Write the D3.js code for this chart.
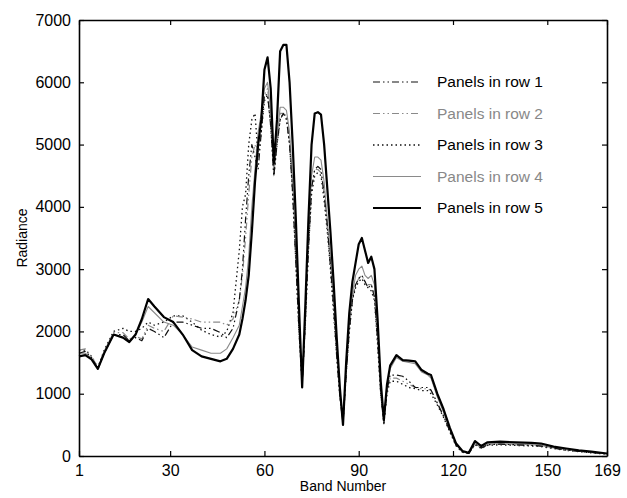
<!DOCTYPE html>
<html lang="en">
<head>
<meta charset="UTF-8">
<title>Radiance vs Band Number</title>
<script src="https://cdn.jsdelivr.net/npm/d3@7/dist/d3.min.js"></script>
<style>
    body { margin: 0; background: #fff; }
    svg text { font-family: "Liberation Sans", Arial, Helvetica, sans-serif; }
</style>
</head>
<body>
<div id="chart"></div>
<script>
const bands = [1,3,5,7,9,12,15,17,19,21, 23,25,28,31,34,37,40,43,46,48,
    50,52,53,54,55,56,57,58,59,60, 61,62,63,64,65,66,67,68,69,70,
    71,72,73,74,75,76,77,78,79,80, 81,82,83,84,85,86,87,88,89,90,
    91,92,93,94,95,96,97,98,99,100, 102,104,106,108,110,112,113,115,117,119,
    121,123,125,127,129,131,135,140,145,148, 152,156,160,164,169];

const row1 = [1650,1680,1580,1400,1650,1950,1950,1850,1900,1850,
    2050,2000,1900,2150,2150,2100,2050,2050,1980,1900,
    2050,2500,3000,3800,4500,5000,4800,4600,5200,5800,
    5800,5300,4500,5000,5400,5500,5400,5000,4200,3100,
    2000,1150,2150,3300,4300,4600,4650,4600,4200,3700,
    3050,2400,1600,950,520,1300,2000,2500,2750,2850,
    2900,2800,2700,2750,2550,1850,1000,520,1050,1300,
    1300,1280,1200,1100,1100,1100,1060,850,640,400,
    170,60,40,190,130,180,190,180,170,160,
    125,95,75,55,35];

const row2 = [1700,1720,1600,1420,1680,1980,1980,1880,1920,1880,
    2100,2050,2000,2250,2230,2200,2150,2150,2150,2100,
    2200,2500,2900,3500,4200,4800,5000,4800,5300,5800,
    5900,5400,4600,5100,5500,5500,5450,5100,4300,3200,
    2100,1150,2200,3400,4300,4600,4600,4550,4200,3700,
    3100,2400,1650,950,540,1350,2050,2550,2750,2850,
    2900,2800,2750,2750,2600,1900,1050,540,1050,1250,
    1250,1200,1150,1100,1080,1080,1050,850,650,400,
    170,60,40,190,130,180,190,180,170,160,
    130,100,80,60,35];

const row3 = [1700,1700,1600,1420,1700,2000,2050,2000,2000,2050,
    2150,2100,2150,2250,2250,2150,2020,1950,1910,2000,
    2300,3300,4000,4200,5000,5400,5500,4800,5200,5700,
    5800,5300,4500,5000,5400,5500,5450,5000,4200,3100,
    2000,1200,2100,3300,4200,4500,4550,4500,4100,3600,
    3000,2300,1600,950,550,1300,2000,2500,2700,2800,
    2850,2750,2700,2650,2500,1800,1000,520,1000,1200,
    1200,1150,1100,1080,1050,1050,1000,820,620,380,
    160,60,40,180,120,170,180,170,160,150,
    120,90,70,50,30];

const row4 = [1650,1650,1570,1400,1650,1950,1900,1850,1950,2150,
    2400,2300,2150,2100,1950,1750,1700,1650,1650,1720,
    1900,2100,2400,2700,3200,4000,4600,5200,5500,5900,
    6000,5500,4500,5100,5600,5600,5550,5200,4400,3300,
    2100,1150,2200,3500,4500,4800,4800,4750,4400,3800,
    3200,2500,1700,1000,520,1400,2100,2600,2900,3000,
    3050,2900,2850,2900,2750,2000,1100,560,1100,1400,
    1580,1520,1500,1480,1350,1300,1250,950,700,420,
    180,70,40,200,130,190,200,190,180,170,
    130,100,80,60,35];

const row5 = [1600,1620,1550,1400,1650,1950,1900,1830,1950,2200,
    2520,2400,2230,2150,1950,1700,1600,1560,1520,1560,
    1720,1950,2200,2500,2900,3600,4400,5000,5400,6200,
    6400,5900,4700,5400,6500,6600,6600,6000,5000,3800,
    2400,1100,2400,3800,5000,5500,5520,5480,5000,4300,
    3600,2800,1900,1100,500,1500,2300,2800,3100,3400,
    3500,3300,3100,3200,3000,2200,1200,580,1150,1450,
    1620,1540,1530,1520,1380,1320,1300,1000,750,450,
    200,80,50,240,160,220,230,220,210,200,
    150,120,90,70,40];

const seriesNames = ['Panels in row 1','Panels in row 2','Panels in row 3','Panels in row 4','Panels in row 5'];
const xTicks = [1, 30, 60, 90, 120, 150, 169];
const yTicks = [0, 1000, 2000, 3000, 4000, 5000, 6000, 7000];

const width = 627, height = 498;
const margin = { top: 20, right: 20, bottom: 42, left: 79 };

const styles = [
    { color: '#111', width: 1.2, dash: '7,3,1.5,3,1.5,3' },
    { color: '#8a8a8a', width: 1.2, dash: '7,3,1.5,3,1.5,3' },
    { color: '#111', width: 1.3, dash: '1.5,3' },
    { color: '#8a8a8a', width: 1.1, dash: null },
    { color: '#000', width: 2.2, dash: null }
];
const textColors = ['#000', '#888', '#000', '#888', '#000'];

const svg = d3.select('#chart').append('svg')
    .attr('width', width)
    .attr('height', height);

const x = d3.scaleLinear().domain([1, 169]).range([margin.left, width - margin.right]);
const y = d3.scaleLinear().domain([0, 7000]).range([height - margin.bottom, margin.top]);

// lines (row 5 drawn last so it sits on top)
const rows = [row1, row2, row3, row4, row5];
const line = d3.line().x((d, i) => x(bands[i])).y(d => y(d));
[3, 2, 1, 0, 4].forEach(k => {
    svg.append('path')
        .attr('d', line(rows[k]))
        .attr('fill', 'none')
        .attr('stroke', styles[k].color)
        .attr('stroke-width', styles[k].width)
        .attr('stroke-dasharray', styles[k].dash)
        .attr('stroke-linejoin', 'round');
});

// axes, ticks inward like matlab box
const tickLen = 5;
svg.append('g')
    .attr('transform', `translate(0,${height - margin.bottom})`)
    .call(d3.axisBottom(x).tickValues(xTicks).tickSizeInner(-tickLen).tickSizeOuter(0).tickPadding(9))
    .call(g => g.selectAll('text').attr('font-size', 16).attr('fill', '#000'));
svg.append('g')
    .attr('transform', `translate(${margin.left},0)`)
    .call(d3.axisLeft(y).tickValues(yTicks).tickFormat(d3.format('d')).tickSizeInner(-tickLen).tickSizeOuter(0).tickPadding(8))
    .call(g => g.selectAll('text').attr('font-size', 16).attr('fill', '#000'));
svg.append('g')
    .attr('transform', `translate(0,${margin.top})`)
    .call(d3.axisTop(x).tickValues(xTicks).tickSizeInner(-tickLen).tickSizeOuter(0).tickFormat(''));
svg.append('g')
    .attr('transform', `translate(${width - margin.right},0)`)
    .call(d3.axisRight(y).tickValues(yTicks).tickSizeInner(-tickLen).tickSizeOuter(0).tickFormat(''));
svg.selectAll('.domain').attr('stroke', '#000').attr('stroke-width', 1.6);
svg.selectAll('.tick line').attr('stroke', '#000').attr('stroke-width', 1.2);

// axis labels
svg.append('text')
    .attr('x', (margin.left + width - margin.right) / 2)
    .attr('y', 491)
    .attr('text-anchor', 'middle')
    .attr('font-size', 14)
    .text('Band Number');
svg.append('text')
    .attr('transform', `translate(27,${(margin.top + height - margin.bottom) / 2}) rotate(-90)`)
    .attr('text-anchor', 'middle')
    .attr('font-size', 14)
    .text('Radiance');

// legend
const legend = svg.append('g');
seriesNames.forEach((name, i) => {
    const ly = 82 + i * 31.5;
    legend.append('line')
        .attr('x1', 373).attr('x2', 421)
        .attr('y1', ly).attr('y2', ly)
        .attr('stroke', styles[i].color)
        .attr('stroke-width', styles[i].width)
        .attr('stroke-dasharray', styles[i].dash);
    legend.append('text')
        .attr('x', 437)
        .attr('y', ly + 5)
        .attr('font-size', 15.5)
        .attr('fill', textColors[i])
        .text(name);
});
</script>
</body>
</html>
